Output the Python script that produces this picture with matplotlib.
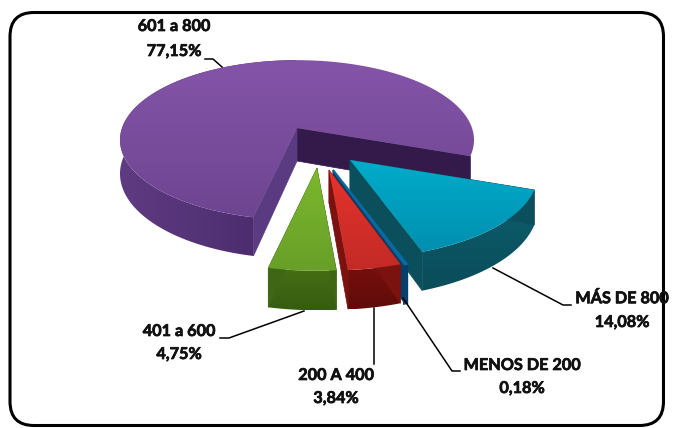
import numpy as np
import matplotlib
matplotlib.use('Agg')
import matplotlib.pyplot as plt
import matplotlib.patheffects as pe
from matplotlib.patches import Polygon, FancyBboxPatch
from matplotlib.colors import LinearSegmentedColormap

plt.rcParams['font.family'] = ['Lato', 'DejaVu Sans']

# Datos
categorias = ['601 a 800', '401 a 600', '200 A 400', 'MENOS DE 200', 'MÁS DE 800']
valores = [77.15, 4.75, 3.84, 0.18, 14.08]
porcentajes = ['77,15%', '4,75%', '3,84%', '0,18%', '14,08%']

# Geometria de la torta (pixeles)
inicio = -20.0
a, b, k, prof = 175.0, 78.0, 0.15, 33.0
vertices = [(297, 128), (317, 168), (329, 170), (333, 170), (350, 160)]
escalas = [1.0, 1.1, 1.08, 1.08, 1.06]

# Colores: cara superior (arriba, abajo), lado exterior, cara cortada
sup = [('#8454a8', '#6e4591'), ('#7cb82e', '#689f28'), ('#e6332c', '#c22a26'),
       ('#0a6aa0', '#085a8c'), ('#00acca', '#008fb0')]
lado = [('#5f3b82', '#472868'), ('#466f16', '#365c10'), ('#7a0f0c', '#5e0c0a'),
        ('#043f6c', '#033258'), ('#0d5f6e', '#0a4c5a')]
corte = ['#341a4a', '#3f6614', '#7a1210', '#043f6c', '#0b4e5c']
corte2 = ['#5a3a80', '#3f6614', '#7a1210', '#043f6c', '#0b4e5c']

# Lineas guia y posicion de textos
guias = [[(205, 59), (213, 59), (222, 67)],
         [(304, 311), (229, 338), (220, 338)],
         [(374, 308), (374, 364)],
         [(403, 298), (452, 371), (460, 371)],
         [(493, 268), (563, 305), (571, 305)]]
textos = [(174, 27, 52), (179, 332, 355), (336, 376, 399), (522, 366, 389), (622, 299, 323)]


def proyectar(ang, esc, c):
    u, v = np.cos(np.radians(ang)) * esc, np.sin(np.radians(ang)) * esc
    w = 1 / (1 + k * v)
    return np.column_stack([c[0] + a * u * w, c[1] - b * v * w]), prof / (1 + k * v)


def degradado(ax, pts, c1, c2, z, horizontal=False):
    x0, x1 = pts[:, 0].min(), pts[:, 0].max()
    y0, y1 = pts[:, 1].min(), pts[:, 1].max()
    cmap = LinearSegmentedColormap.from_list('g', [c1, c2])
    g = np.linspace(0, 1, 64).reshape(1, -1) if horizontal else np.linspace(0, 1, 64).reshape(-1, 1)
    im = ax.imshow(g, cmap=cmap, extent=(x0, x1, y1, y0), aspect='auto', zorder=z, interpolation='bilinear')
    pol = Polygon(pts, closed=True, fc='none', ec='none', transform=ax.transData)
    ax.add_patch(pol)
    im.set_clip_path(pol)


fig = plt.figure(figsize=(6.74, 4.28), dpi=100)
ax = fig.add_axes([0, 0, 1, 1])

# Angulos de cada porcion a partir de los valores
acum = inicio + np.concatenate([[0], np.cumsum(valores)]) * 3.6
orden = [0, 4, 3, 2, 1]

z = 2
for i in orden:
    ang = np.linspace(acum[i], acum[i + 1], 200)
    c = vertices[i]
    arco, d = proyectar(ang, escalas[i], c)
    centro = np.array(c, dtype=float)
    # lado exterior (en la porcion grande solo la parte visible)
    vis = ang > 90 if i == 0 else np.ones(len(ang), dtype=bool)
    abajo = arco[vis] + np.column_stack([np.zeros(vis.sum()), d[vis]])
    pared = np.vstack([arco[vis], abajo[::-1]])
    degradado(ax, pared, lado[i][0], lado[i][1], z + 0.1, horizontal=i == 0)
    # caras cortadas
    for p, dp, color in [(arco[0], d[0], corte[i]), (arco[-1], d[-1], corte2[i])]:
        cara = np.array([centro, p, p + [0, dp], centro + [0, prof]])
        ax.add_patch(Polygon(cara, closed=True, fc=color, ec=color, lw=0.5, zorder=z + 0.15))
    # cara superior
    tapa = np.vstack([centro, arco])
    degradado(ax, tapa, sup[i][0], sup[i][1], z + 0.2)
    if i == 3:
        ax.add_patch(Polygon(pared, closed=True, fc=lado[i][0], ec=lado[i][0], lw=2, zorder=z + 0.25))
        ax.add_patch(Polygon(tapa, closed=True, fc=sup[i][0], ec=sup[i][0], lw=1.5, zorder=z + 0.3))
    z += 1

# Marco redondeado
ax.add_patch(FancyBboxPatch((10, 12.5), 653.5, 413, boxstyle='round,pad=0,rounding_size=24',
                            fc='none', ec='black', lw=2.2, zorder=20))

# Guias y etiquetas
for g in guias:
    g = np.array(g)
    ax.plot(g[:, 0], g[:, 1], color='black', lw=1.1, zorder=15)
grueso = [pe.withStroke(linewidth=0.5, foreground='#111111')]
for nombre, pct, (x, y1, y2) in zip(categorias, porcentajes, textos):
    for texto, y in [(nombre, y1), (pct, y2)]:
        ax.text(x, y, texto, ha='center', va='center', fontsize=11.7, fontweight='bold',
                color='#111111', zorder=21, path_effects=grueso)

ax.set_xlim(0, 674)
ax.set_ylim(428, 0)
ax.axis('off')
fig.savefig('out.png', dpi=100, facecolor='white')
